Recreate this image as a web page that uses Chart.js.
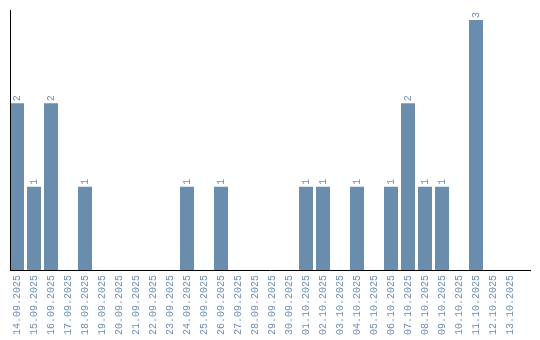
<!DOCTYPE html>
<html>
<head>
<meta charset="utf-8">
<script src="https://cdn.jsdelivr.net/npm/chart.js@4"></script>
<style>
html,body{margin:0;padding:0;background:#fff;}
canvas{display:block;}
</style>
</head>
<body>
<canvas id="c" width="540" height="340"></canvas>
<script>
const categories = ["14.09.2025","15.09.2025","16.09.2025","17.09.2025","18.09.2025","19.09.2025","20.09.2025","21.09.2025","22.09.2025","23.09.2025","24.09.2025","25.09.2025","26.09.2025","27.09.2025","28.09.2025","29.09.2025","30.09.2025","01.10.2025","02.10.2025","03.10.2025","04.10.2025","05.10.2025","06.10.2025","07.10.2025","08.10.2025","09.10.2025","10.10.2025","11.10.2025","12.10.2025","13.10.2025"];
const counts = [2,1,2,0,1,0,0,0,0,0,1,0,1,0,0,0,0,1,1,0,1,0,1,2,1,1,0,3,0,0];

const barColor = '#6a8cad';
const textColor = '#6d8fb3';

const decor = {
  id: 'decor',
  afterDatasetsDraw(chart) {
    const ctx = chart.ctx;
    const meta = chart.getDatasetMeta(0);
    ctx.save();
    ctx.fillStyle = textColor;
    ctx.font = '10px "Liberation Mono"';
    ctx.textAlign = 'left';
    ctx.textBaseline = 'middle';
    meta.data.forEach((bar, i) => {
      const v = counts[i];
      if (!v) return;
      ctx.save();
      ctx.translate(bar.x, bar.y - 2);
      ctx.rotate(-Math.PI / 2);
      ctx.fillText(String(v), 0, 0);
      ctx.restore();
    });
    // axis lines
    const y0 = chart.scales.y.getPixelForValue(0);
    ctx.strokeStyle = '#000';
    ctx.lineWidth = 1;
    ctx.beginPath();
    ctx.moveTo(10.5, chart.chartArea.top);
    ctx.lineTo(10.5, Math.round(y0) + 1);
    ctx.moveTo(10, Math.round(y0) + 0.5);
    ctx.lineTo(531, Math.round(y0) + 0.5);
    ctx.stroke();
    ctx.restore();
  }
};

new Chart(document.getElementById('c'), {
  type: 'bar',
  data: {
    labels: categories,
    datasets: [{
      data: counts,
      backgroundColor: barColor,
      borderWidth: 0,
      categoryPercentage: 1,
      barPercentage: 14 / 17
    }]
  },
  options: {
    responsive: false,
    animation: false,
    layout: { padding: { left: 8.5, right: 21.5, top: 10, bottom: 0 } },
    plugins: { legend: { display: false }, tooltip: { enabled: false } },
    scales: {
      x: {
        grid: { display: false, drawTicks: false },
        border: { display: false },
        ticks: {
          color: textColor,
          font: { family: '"Liberation Mono"', size: 10 },
          minRotation: 90,
          maxRotation: 90,
          autoSkip: false,
          padding: 5
        },
        afterFit(scale) { scale.height = 70; }
      },
      y: {
        display: false,
        min: 0,
        max: 3.12
      }
    }
  },
  plugins: [decor]
});
</script>
</body>
</html>
